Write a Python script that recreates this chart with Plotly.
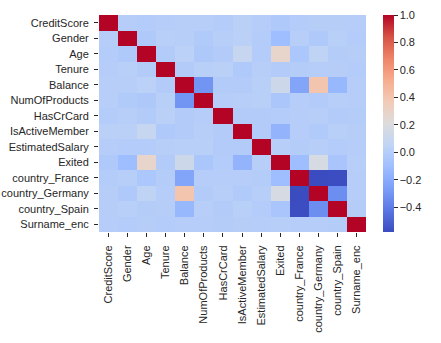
import plotly.graph_objects as go

labels = ["CreditScore", "Gender", "Age", "Tenure", "Balance", "NumOfProducts",
          "HasCrCard", "IsActiveMember", "EstimatedSalary", "Exited",
          "country_France", "country_Germany", "country_Spain", "Surname_enc"]

corr = [
    [1.000, 0.003, -0.004, 0.001, 0.006, 0.012, -0.005, 0.026, -0.001, -0.027, -0.009, 0.005, 0.005, 0.000],
    [0.003, 1.000, -0.028, 0.015, 0.012, -0.022, 0.006, 0.023, -0.008, -0.106, 0.007, -0.025, 0.017, -0.004],
    [-0.004, -0.028, 1.000, -0.010, 0.028, -0.031, -0.012, 0.085, -0.007, 0.285, -0.039, 0.047, -0.002, 0.005],
    [0.001, 0.015, -0.010, 1.000, -0.012, 0.013, 0.023, -0.028, 0.008, -0.014, -0.003, -0.001, 0.004, -0.005],
    [0.006, 0.012, 0.028, -0.012, 1.000, -0.304, -0.015, -0.010, 0.013, 0.119, -0.231, 0.401, -0.135, 0.003],
    [0.012, -0.022, -0.031, 0.013, -0.304, 1.000, 0.003, 0.010, 0.014, -0.048, 0.001, -0.010, 0.009, 0.002],
    [-0.005, 0.006, -0.012, 0.023, -0.015, 0.003, 1.000, -0.012, -0.010, -0.007, 0.002, 0.011, -0.013, -0.003],
    [0.026, 0.023, 0.085, -0.028, -0.010, 0.010, -0.012, 1.000, -0.011, -0.156, 0.003, -0.021, 0.017, 0.004],
    [-0.001, -0.008, -0.007, 0.008, 0.013, 0.014, -0.010, -0.011, 1.000, 0.012, -0.003, 0.010, -0.007, 0.001],
    [-0.027, -0.106, 0.285, -0.014, 0.119, -0.048, -0.007, -0.156, 0.012, 1.000, -0.105, 0.174, -0.053, 0.010],
    [-0.009, 0.007, -0.039, -0.003, -0.231, 0.001, 0.002, 0.003, -0.003, -0.105, 1.000, -0.580, -0.575, 0.001],
    [0.005, -0.025, 0.047, -0.001, 0.401, -0.010, 0.011, -0.021, 0.010, 0.174, -0.580, 1.000, -0.332, 0.002],
    [0.005, 0.017, -0.002, 0.004, -0.135, 0.009, -0.013, 0.017, -0.007, -0.053, -0.575, -0.332, 1.000, -0.003],
    [0.000, -0.004, 0.005, -0.005, 0.003, 0.002, -0.003, 0.004, 0.001, 0.010, 0.001, 0.002, -0.003, 1.000],
]

coolwarm_hex = ["#3b4cc0", "#5977e3", "#7b9ff9", "#9ebeff", "#c0d4f5", "#dddcdc",
                "#f2cbb7", "#f7ac8e", "#ee8468", "#d65244", "#b40426"]
colorscale = [[i / (len(coolwarm_hex) - 1), c] for i, c in enumerate(coolwarm_hex)]

W, H = 441, 343
L, R, T, B = 99, 75, 15, 111
pw = W - L - R
cb_x = (383 - L) / pw

text_color = "#262626"
font_family = "Liberation Sans, Arial, sans-serif"

fig = go.Figure(go.Heatmap(
    z=corr, x=labels, y=labels,
    colorscale=colorscale, zmin=-0.580, zmax=1.0,
    colorbar=dict(
        thickness=11, len=1.0, lenmode="fraction", y=0.5, yanchor="middle",
        x=cb_x, xanchor="left", xpad=0, ypad=0, outlinewidth=0,
        tick0=0, dtick=0.2, tickformat=".1f", ticks="outside", ticklen=4,
        tickcolor=text_color, tickfont=dict(size=11, color=text_color, family=font_family),
    ),
    hoverongaps=False,
))

fig.update_layout(
    width=W, height=H,
    margin=dict(l=L, r=R, t=T, b=B, autoexpand=False),
    paper_bgcolor="white", plot_bgcolor="white",
    font=dict(family=font_family, size=11, color=text_color),
    xaxis=dict(tickangle=-90, ticks="outside", ticklen=4, tickcolor=text_color,
               ticklabelstandoff=4, automargin=False,
               showgrid=False, zeroline=False, showline=False,
               tickfont=dict(size=11, color=text_color)),
    yaxis=dict(autorange="reversed", ticks="outside", ticklen=4, tickcolor=text_color,
               ticklabelstandoff=3, automargin=False,
               showgrid=False, zeroline=False, showline=False,
               tickfont=dict(size=11, color=text_color)),
)

fig.write_html("out.html")
